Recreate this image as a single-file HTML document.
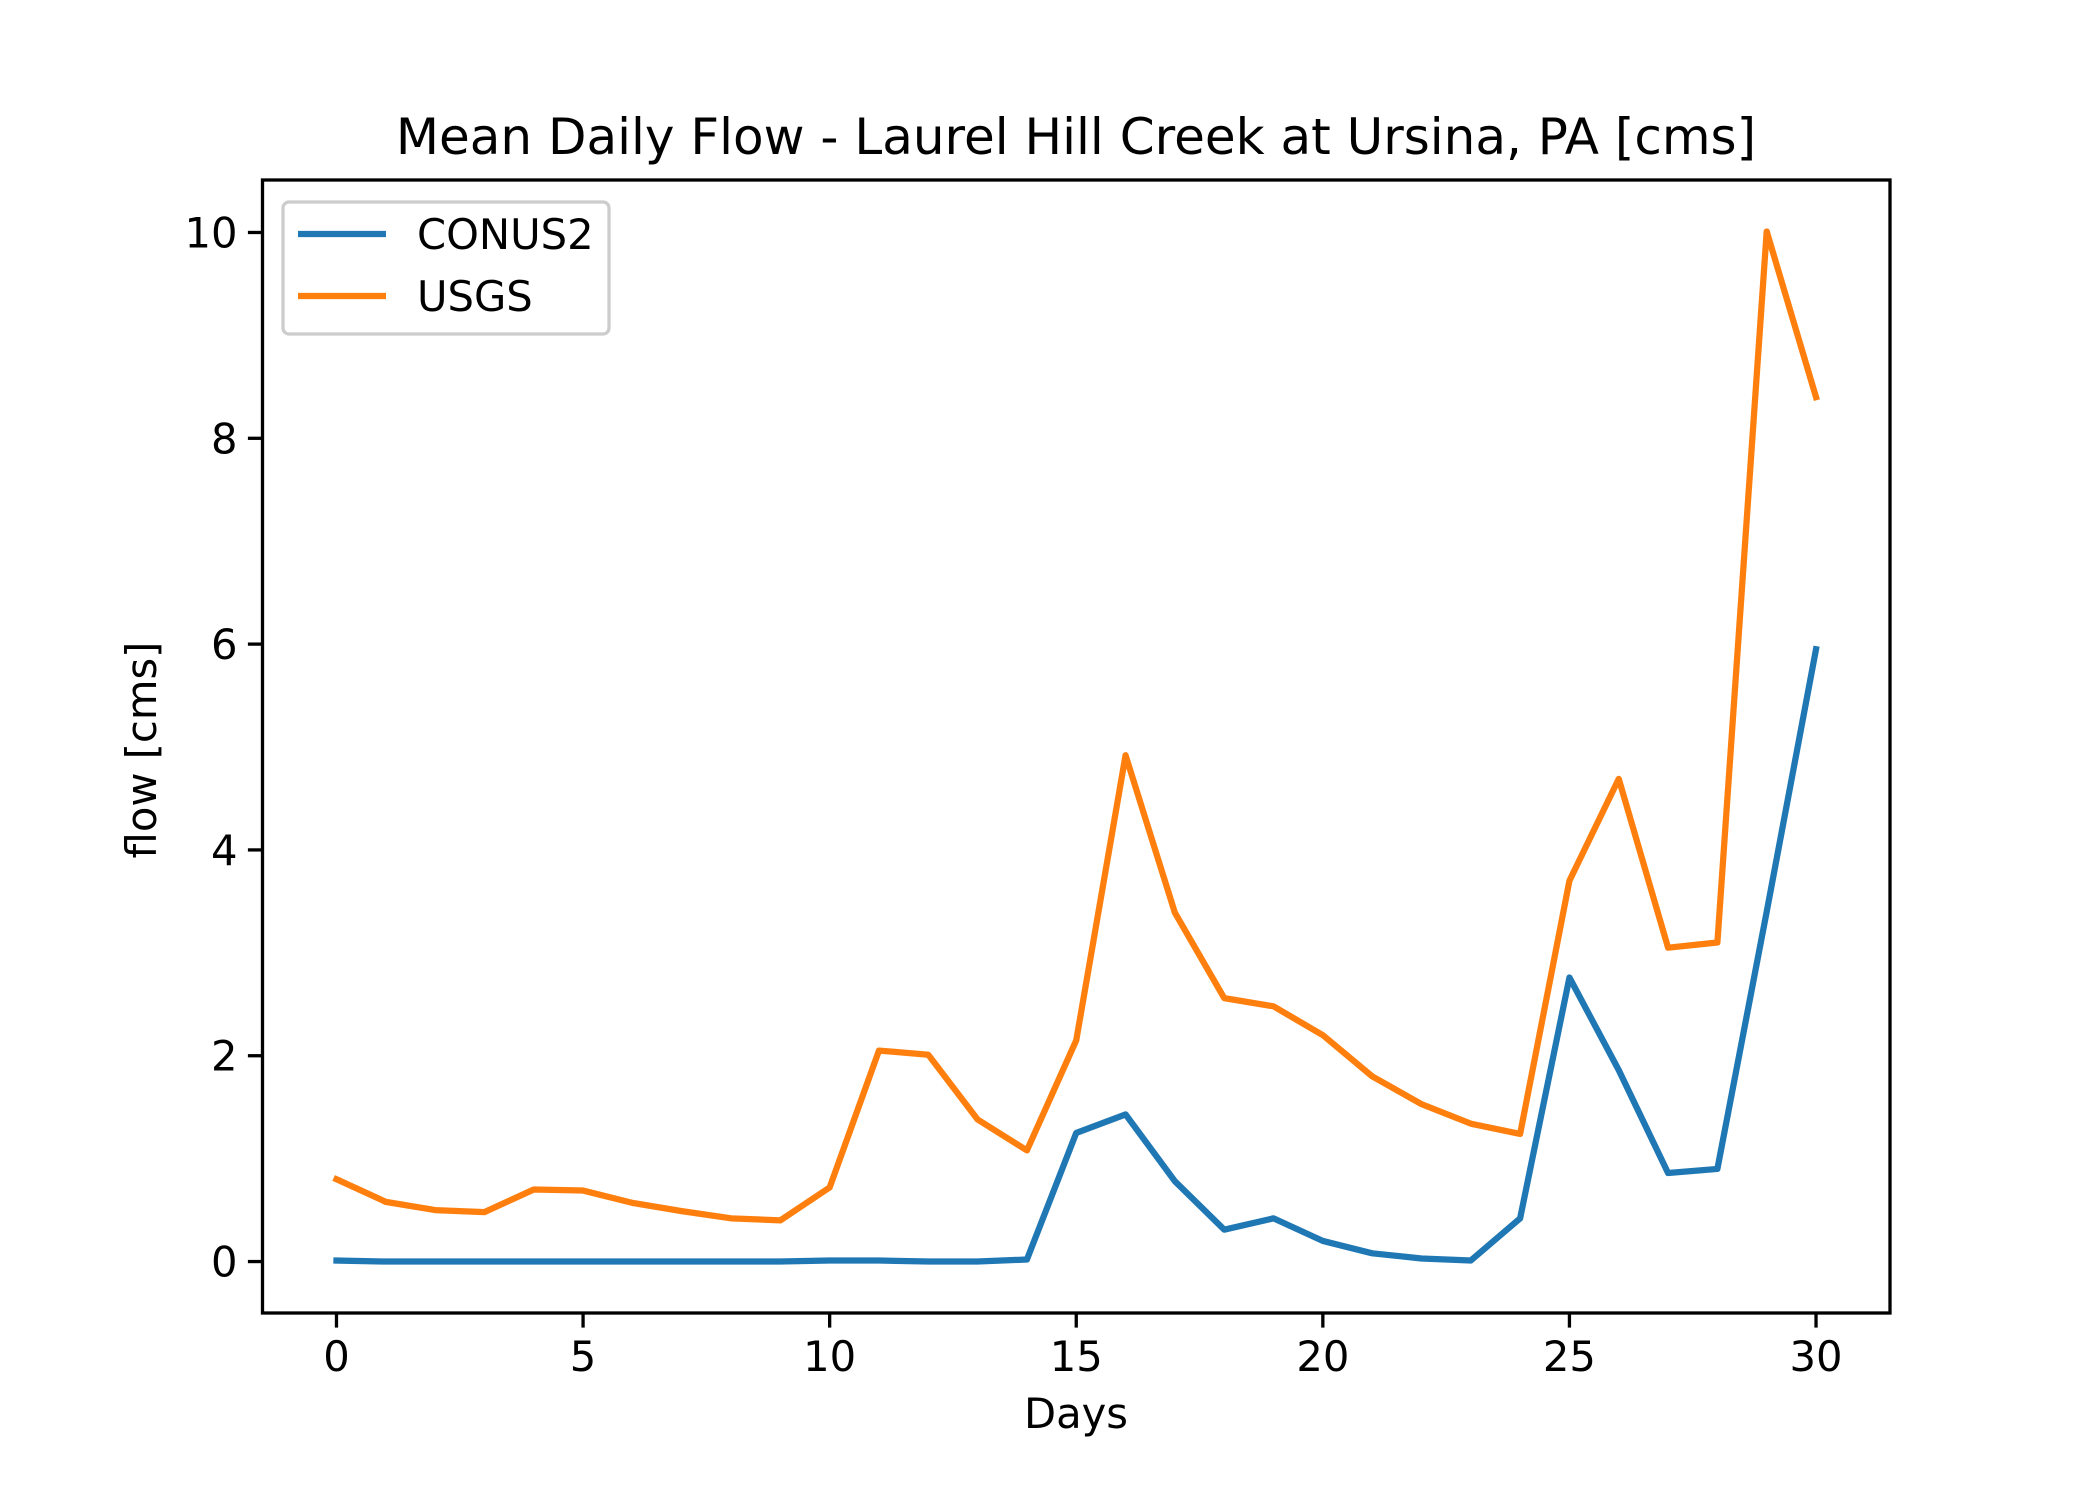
<!DOCTYPE html>
<html><head><meta charset="utf-8"><style>body{margin:0;background:#fff}svg{display:block;font-family:"DejaVu Sans","Liberation Sans",sans-serif}</style></head>
<body>
<svg id="chart" width="2100" height="1500" xmlns="http://www.w3.org/2000/svg">
<rect width="2100" height="1500" fill="#fff"/>
<text x="1076" y="154" font-size="50" text-anchor="middle">Mean Daily Flow - Laurel Hill Creek at Ursina, PA [cms]</text>
<g id="plot"></g>
<text x="1076" y="1428" font-size="41.7" text-anchor="middle">Days</text>
<text transform="translate(156,750) rotate(-90)" font-size="41.7" text-anchor="middle">flow [cms]</text>
</svg>
<script>
const days = [0,1,2,3,4,5,6,7,8,9,10,11,12,13,14,15,16,17,18,19,20,21,22,23,24,25,26,27,28,29,30];
const conus2 = [0.01,0,0,0,0,0,0,0,0,0,0.01,0.01,0,0,0.02,1.25,1.43,0.78,0.31,0.42,0.20,0.08,0.03,0.01,0.42,2.76,1.86,0.86,0.90,3.4,5.95];
const usgs = [0.80,0.58,0.50,0.48,0.70,0.69,0.57,0.49,0.42,0.40,0.72,2.05,2.01,1.38,1.08,2.15,4.92,3.39,2.56,2.48,2.20,1.80,1.53,1.34,1.24,3.70,4.69,3.05,3.10,10.01,8.40];
const xTicks = [0,5,10,15,20,25,30];
const yTicks = [0,2,4,6,8,10];
const L=262.5,R=1890,T=180,B=1313;
const xmin=-1.5,xmax=31.5,ymin=-0.5,ymax=10.51;
const X=v=>L+(v-xmin)/(xmax-xmin)*(R-L);
const Y=v=>B-(v-ymin)/(ymax-ymin)*(B-T);
const NS='http://www.w3.org/2000/svg';
const g=document.getElementById('plot');
function mk(t,a,p){const e=document.createElementNS(NS,t);for(const k in a)e.setAttribute(k,a[k]);(p||g).appendChild(e);return e;}
function series(vals,color,name){
  const el=mk('polyline',{points:vals.map((v,i)=>X(days[i])+','+Y(v)).join(' '),fill:'none',stroke:color,'stroke-width':6.25,'stroke-linejoin':'round','stroke-linecap':'square'});
  
  
}
series(conus2,'#1f77b4','conus2-line');
series(usgs,'#ff7f0e','usgs-line');
const frame=mk('rect',{x:L,y:T,width:R-L,height:B-T,fill:'none',stroke:'#000','stroke-width':3.3});


xTicks.forEach(t=>{
  const ln=mk('line',{x1:X(t),x2:X(t),y1:B,y2:B+14.6,stroke:'#000','stroke-width':3.3});
  
  
  const tx=mk('text',{x:X(t),y:B+58,'font-size':41.7,'text-anchor':'middle'});
  tx.textContent=t;
  
  
});
yTicks.forEach(t=>{
  const ln=mk('line',{x1:L-14.6,x2:L,y1:Y(t),y2:Y(t),stroke:'#000','stroke-width':3.3});
  
  
  const tx=mk('text',{x:L-25,y:Y(t)+15,'font-size':41.7,'text-anchor':'end'});
  tx.textContent=t;
  
  
});
const lg=mk('g',{});


mk('rect',{x:283,y:202,width:326,height:132,rx:6,fill:'#fff','fill-opacity':0.8,stroke:'#ccc','stroke-width':3.3},lg);
[['CONUS2','#1f77b4',234],['USGS','#ff7f0e',296]].forEach(([n,c,y])=>{
  const e=mk('g',{},lg);
  
  
  mk('line',{x1:298,x2:386,y1:y,y2:y,stroke:c,'stroke-width':6.25},e);
  const tx=mk('text',{x:417,y:y+15,'font-size':41.7},e);
  tx.textContent=n;
});
</script>
</body></html>
